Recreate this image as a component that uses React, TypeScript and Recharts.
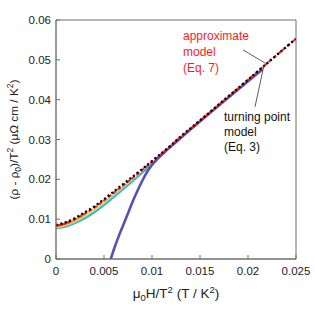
import React from "react";
import {
  LineChart,
  Line,
  XAxis,
  YAxis,
  Label,
  ReferenceLine,
} from "recharts";

// turning point model (Eq. 3), black dotted
const xModel = [0, 0.001, 0.002, 0.003, 0.004, 0.005, 0.006, 0.007, 0.008, 0.009, 0.01, 0.011, 0.012, 0.0125, 0.015, 0.0175, 0.02, 0.0225, 0.025];
const yTurning = [0.0085, 0.0092, 0.0103, 0.0117, 0.0132, 0.015, 0.0169, 0.0188, 0.0207, 0.0226, 0.0246, 0.0266, 0.0286, 0.0297, 0.0348, 0.0399, 0.045, 0.0502, 0.0553];
// approximate model (Eq. 7), red dashed
const yApprox = [0.0083, 0.0089, 0.01, 0.0114, 0.0129, 0.0147, 0.0166, 0.0185, 0.0204, 0.0224, 0.0244, 0.0264, 0.0285, 0.0296, 0.0347, 0.0398, 0.045, 0.0502, 0.0553];

// measured curves, one per temperature
const xRed = [0, 0.0005, 0.001, 0.0015];
const yRed = [0.0084, 0.0086, 0.009, 0.0095];
const xOrange = [0, 0.001, 0.002, 0.003];
const yOrange = [0.0082, 0.0087, 0.0098, 0.0112];
const xYellow = [0, 0.001, 0.002, 0.003, 0.004, 0.005];
const yYellow = [0.0081, 0.0086, 0.0097, 0.011, 0.0126, 0.0144];
const xGreen = [0, 0.001, 0.002, 0.003, 0.004, 0.005, 0.006, 0.007, 0.008];
const yGreen = [0.0079, 0.0084, 0.0094, 0.0107, 0.0123, 0.0141, 0.016, 0.018, 0.02];
const xTeal = [0, 0.001, 0.002, 0.003, 0.004, 0.005, 0.006, 0.007, 0.008, 0.009, 0.01, 0.011, 0.0115];
const yTeal = [0.0077, 0.0081, 0.009, 0.0102, 0.0117, 0.0135, 0.0155, 0.0175, 0.0196, 0.0217, 0.0238, 0.026, 0.0271];
const xBlue = [0.0057, 0.006, 0.0065, 0.007, 0.0075, 0.008, 0.0085, 0.009, 0.0095, 0.01, 0.011, 0.012, 0.014, 0.016, 0.018, 0.02, 0.0215];
const yBlue = [0, 0.0022, 0.0055, 0.0085, 0.0115, 0.0145, 0.0172, 0.0197, 0.0219, 0.0236, 0.0262, 0.0283, 0.0325, 0.0366, 0.0406, 0.0446, 0.0476];

const xTicks = [0, 0.005, 0.01, 0.015, 0.02, 0.025];
const yTicks = [0, 0.01, 0.02, 0.03, 0.04, 0.05, 0.06];

const toPoints = (xs: number[], ys: number[]) => xs.map((x, i) => ({ x, y: ys[i] }));

const FONT = "'Liberation Sans', Arial, Helvetica, sans-serif";
const AXIS = "#6e6e6e";
const TXT = "#222";

const BottomTick = (props: any) => {
  const { x, y, payload } = props;
  return (
    <g>
      <line x1={x} y1={y} x2={x} y2={y - 4} stroke={AXIS} strokeWidth={1} />
      <text x={x} y={y + 16} textAnchor="middle" fontSize={11.5} fontFamily={FONT} fill={TXT}>
        {String(payload.value)}
      </text>
    </g>
  );
};

const LeftTick = (props: any) => {
  const { x, y, payload } = props;
  return (
    <g>
      <line x1={x} y1={y} x2={x + 4} y2={y} stroke={AXIS} strokeWidth={1} />
      <text x={x - 5} y={y + 4} textAnchor="end" fontSize={11.5} fontFamily={FONT} fill={TXT}>
        {String(payload.value)}
      </text>
    </g>
  );
};

const TopTick = (props: any) => {
  const { x, y } = props;
  return <line x1={x} y1={y} x2={x} y2={y + 4} stroke={AXIS} strokeWidth={1} />;
};

const RightTick = (props: any) => {
  const { x, y } = props;
  return <line x1={x} y1={y} x2={x - 4} y2={y} stroke={AXIS} strokeWidth={1} />;
};

const XTitle = (props: any) => {
  const { x, y, width } = props.viewBox;
  return (
    <text x={x + width / 2} y={y + 39} textAnchor="middle" fontSize={13.5} fontFamily={FONT} fill={TXT}>
      <tspan>μ</tspan>
      <tspan dy={3} fontSize={9.5}>0</tspan>
      <tspan dy={-3}>H/T</tspan>
      <tspan dy={-5} fontSize={9.5}>2</tspan>
      <tspan dy={5}> (T / K</tspan>
      <tspan dy={-5} fontSize={9.5}>2</tspan>
      <tspan dy={5}>)</tspan>
    </text>
  );
};

const YTitle = (props: any) => {
  const { y, height } = props.viewBox;
  const cx = 18;
  const cy = y + height / 2;
  return (
    <text x={cx} y={cy} transform={`rotate(-90 ${cx} ${cy})`} textAnchor="middle" fontSize={11.8} fontFamily={FONT} fill={TXT}>
      <tspan>(ρ - ρ</tspan>
      <tspan dy={3} fontSize={8.5}>0</tspan>
      <tspan dy={-3}>)/T</tspan>
      <tspan dy={-5} fontSize={8.5}>2</tspan>
      <tspan dy={5}> (μΩ cm / K</tspan>
      <tspan dy={-5} fontSize={8.5}>2</tspan>
      <tspan dy={5}>)</tspan>
    </text>
  );
};

const measured = [
  { name: "teal", color: "#3db1c2", xs: xTeal, ys: yTeal, w: 2 },
  { name: "green", color: "#9ad89a", xs: xGreen, ys: yGreen, w: 2 },
  { name: "yellow", color: "#f2e27a", xs: xYellow, ys: yYellow, w: 2 },
  { name: "orange", color: "#f4a03c", xs: xOrange, ys: yOrange, w: 2 },
  { name: "red", color: "#e42a1d", xs: xRed, ys: yRed, w: 2 },
  { name: "blue", color: "#5b4fb3", xs: xBlue, ys: yBlue, w: 2.6 },
];

export default function App() {
  return (
    <div style={{ position: "fixed", left: 0, top: 0, width: 315, height: 315, background: "#fff" }}>
      <LineChart width={315} height={315} margin={{ top: 19, right: 18, left: 0, bottom: 0 }}>
        <XAxis
          dataKey="x"
          type="number"
          domain={[0, 0.025]}
          ticks={xTicks}
          allowDataOverflow
          height={56}
          stroke={AXIS}
          strokeWidth={1.4}
          tickLine={false}
          tickSize={0}
          tickMargin={0}
          tick={<BottomTick />}
        >
          <Label content={<XTitle />} />
        </XAxis>
        <XAxis
          xAxisId="top"
          orientation="top"
          dataKey="x"
          type="number"
          domain={[0, 0.025]}
          ticks={xTicks}
          height={1}
          stroke={AXIS}
          strokeWidth={1}
          tickLine={false}
          tickSize={0}
          tickMargin={0}
          tick={<TopTick />}
        />
        <YAxis
          dataKey="y"
          type="number"
          domain={[0, 0.06]}
          ticks={yTicks}
          allowDataOverflow
          width={56}
          stroke={AXIS}
          strokeWidth={1.4}
          tickLine={false}
          tickSize={0}
          tickMargin={0}
          tick={<LeftTick />}
        >
          <Label content={<YTitle />} />
        </YAxis>
        <YAxis
          yAxisId="right"
          orientation="right"
          type="number"
          domain={[0, 0.06]}
          ticks={yTicks}
          width={1}
          stroke={AXIS}
          strokeWidth={1}
          tickLine={false}
          tickSize={0}
          tickMargin={0}
          tick={<RightTick />}
        />
        {measured.map((m) => (
          <Line
            key={m.name}
            data={toPoints(m.xs, m.ys)}
            dataKey="y"
            type="monotone"
            stroke={m.color}
            strokeWidth={m.w}
            dot={false}
            isAnimationActive={false}
          />
        ))}
        <Line
          data={toPoints(xModel, yApprox)}
          dataKey="y"
          type="monotone"
          stroke="#ff1a1a"
          strokeWidth={2}
          strokeDasharray="4 2"
          dot={false}
          isAnimationActive={false}
        />
        <Line
          data={toPoints(xModel, yTurning)}
          dataKey="y"
          type="monotone"
          stroke="#000"
          strokeWidth={2.3}
          strokeDasharray="2 2.6"
          dot={false}
          isAnimationActive={false}
        />
        <ReferenceLine
          segment={[{ x: 0.01948, y: 0.0525 }, { x: 0.02177, y: 0.0492 }]}
          stroke="#333"
          strokeWidth={0.8}
          ifOverflow="visible"
        />
        <ReferenceLine
          segment={[{ x: 0.02073, y: 0.0382 }, { x: 0.02167, y: 0.0487 }]}
          stroke="#333"
          strokeWidth={0.8}
          ifOverflow="visible"
        />
        <text fontSize={12} fontFamily={FONT} fill="#ff1a1a">
          <tspan x={183} y={40}>approximate</tspan>
          <tspan x={183} y={56}>model</tspan>
          <tspan x={183} y={72}>(Eq. 7)</tspan>
        </text>
        <text fontSize={12} fontFamily={FONT} fill="#111">
          <tspan x={224} y={121}>turning point</tspan>
          <tspan x={224} y={136}>model</tspan>
          <tspan x={224} y={151}>(Eq. 3)</tspan>
        </text>
      </LineChart>
    </div>
  );
}
